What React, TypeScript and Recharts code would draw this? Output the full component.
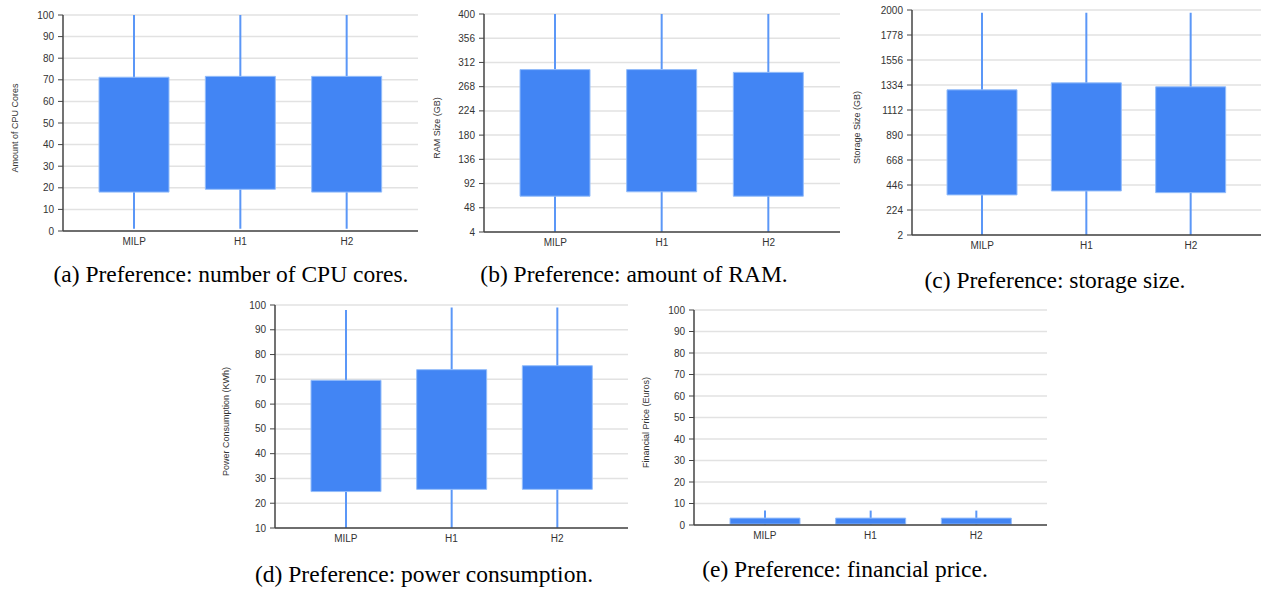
import React from "react";
import { ComposedChart, Bar, XAxis, YAxis, CartesianGrid, Label } from "recharts";

const categories = ["MILP", "H1", "H2"];

// (a) CPU cores
const cpuMin = [1, 1, 1];
const cpuQ1 = [18, 19.3, 18];
const cpuQ3 = [71.2, 71.6, 71.6];
const cpuMax = [100, 100, 100];
const cpuTicks = [0, 10, 20, 30, 40, 50, 60, 70, 80, 90, 100];

// (b) RAM
const ramMin = [4, 4, 4];
const ramQ1 = [69, 77, 69];
const ramQ3 = [299, 299, 294];
const ramMax = [400, 400, 400];
const ramTicks = [4, 48, 92, 136, 180, 224, 268, 312, 356, 400];

// (c) Storage
const stoMin = [2, 2, 2];
const stoQ1 = [358, 393, 378];
const stoQ3 = [1291, 1353, 1318];
const stoMax = [1975, 1975, 1975];
const stoTicks = [2, 224, 446, 668, 890, 1112, 1334, 1556, 1778, 2000];

// (d) Power
const powMin = [10, 10, 10];
const powQ1 = [24.7, 25.6, 25.6];
const powQ3 = [69.6, 73.9, 75.5];
const powMax = [98, 99, 99];
const powTicks = [10, 20, 30, 40, 50, 60, 70, 80, 90, 100];

// (e) Price
const priMin = [0, 0, 0];
const priQ1 = [0.4, 0.4, 0.4];
const priQ3 = [3.2, 3.2, 3.2];
const priMax = [6.7, 6.7, 6.7];
const priTicks = [0, 10, 20, 30, 40, 50, 60, 70, 80, 90, 100];

const build = (mn: number[], q1: number[], q3: number[], mx: number[]) =>
  categories.map((name, i) => ({ name, box: [q1[i], q3[i]], whisker: [mn[i], mx[i]] }));

const FONT = "'Liberation Sans', Arial, sans-serif";

type PanelProps = {
  left: number;
  top: number;
  width: number;
  height: number;
  marginTop: number;
  marginRight: number;
  data: any[];
  ticks: number[];
  yLabel: string;
  labelDist: number;
};

function Panel(p: PanelProps) {
  const dom: [number, number] = [p.ticks[0], p.ticks[p.ticks.length - 1]];
  const pad = { left: 18, right: 18 };
  return (
    <div style={{ position: "absolute", left: p.left, top: p.top }}>
      <ComposedChart
        width={p.width}
        height={p.height}
        data={p.data}
        margin={{ top: p.marginTop, right: p.marginRight, bottom: 0, left: 0 }}
      >
        <CartesianGrid vertical={false} stroke="#e2e2e2" strokeWidth={1.5} />
        <XAxis
          xAxisId="box"
          dataKey="name"
          height={30}
          padding={pad}
          axisLine={{ stroke: "#444", strokeWidth: 1.5 }}
          tickLine={false}
          tickSize={4}
          tickMargin={3}
          tick={{ fontSize: 10, fill: "#333", fontFamily: FONT }}
        />
        <XAxis xAxisId="wh" dataKey="name" hide padding={pad} />
        <YAxis
          width={63}
          domain={dom}
          ticks={p.ticks}
          interval={0}
          allowDataOverflow
          axisLine={{ stroke: "#444", strokeWidth: 1.5 }}
          tickLine={{ stroke: "#444" }}
          tickSize={5}
          tickMargin={4}
          tick={{ fontSize: 10, fill: "#333", fontFamily: FONT }}
        >
          <Label
            content={(lp: any) => {
              const vb = lp.viewBox || {};
              const x = vb.x + vb.width - p.labelDist;
              const y = vb.y + vb.height / 2 + 5;
              return (
                <text
                  x={x}
                  y={y}
                  transform={`rotate(-90 ${x} ${y})`}
                  textAnchor="middle"
                  dominantBaseline="central"
                  fontSize={9}
                  fill="#333"
                  fontFamily={FONT}
                >
                  {p.yLabel}
                </text>
              );
            }}
          />
        </YAxis>
        <Bar
          xAxisId="wh"
          dataKey="whisker"
          barSize={2}
          fill="#5b97f7"
          isAnimationActive={false}
        />
        <Bar
          xAxisId="box"
          dataKey="box"
          barSize={70}
          fill="#4285f4"
          stroke="#94bdfa"
          strokeWidth={1}
          isAnimationActive={false}
        />
      </ComposedChart>
    </div>
  );
}

function Caption({ cx, cy, text }: { cx: number; cy: number; text: string }) {
  return (
    <div
      style={{
        position: "absolute",
        left: cx - 250,
        top: cy - 14,
        width: 500,
        height: 28,
        lineHeight: "28px",
        textAlign: "center",
        fontFamily: "'Liberation Serif', 'Times New Roman', serif",
        fontSize: 23.5,
        color: "#000",
        whiteSpace: "nowrap",
      }}
    >
      {text}
    </div>
  );
}

export default function App() {
  return (
    <div style={{ position: "absolute", left: 0, top: 0, width: 1262, height: 589, background: "#fff" }}>
      <Panel left={0} top={0} width={420} height={261} marginTop={15} marginRight={2}
        data={build(cpuMin, cpuQ1, cpuQ3, cpuMax)} ticks={cpuTicks} yLabel="Amount of CPU Cores" labelDist={48} />
      <Panel left={421} top={0} width={419} height={262} marginTop={14} marginRight={0}
        data={build(ramMin, ramQ1, ramQ3, ramMax)} ticks={ramTicks} yLabel="RAM Size (GB)" labelDist={47} />
      <Panel left={849} top={0} width={412} height={265} marginTop={10} marginRight={0}
        data={build(stoMin, stoQ1, stoQ3, stoMax)} ticks={stoTicks} yLabel="Storage Size (GB)" labelDist={55} />
      <Panel left={212} top={290} width={416} height={268} marginTop={15} marginRight={0}
        data={build(powMin, powQ1, powQ3, powMax)} ticks={powTicks} yLabel="Power Consumption (KWh)" labelDist={49} />
      <Panel left={631} top={295} width={416} height={260} marginTop={15} marginRight={0}
        data={build(priMin, priQ1, priQ3, priMax)} ticks={priTicks} yLabel="Financial Price (Euros)" labelDist={48} />
      <Caption cx={231} cy={274} text="(a) Preference: number of CPU cores." />
      <Caption cx={634} cy={274} text="(b) Preference: amount of RAM." />
      <Caption cx={1055} cy={280} text="(c) Preference: storage size." />
      <Caption cx={424} cy={574} text="(d) Preference: power consumption." />
      <Caption cx={845} cy={569} text="(e) Preference: financial price." />
    </div>
  );
}
